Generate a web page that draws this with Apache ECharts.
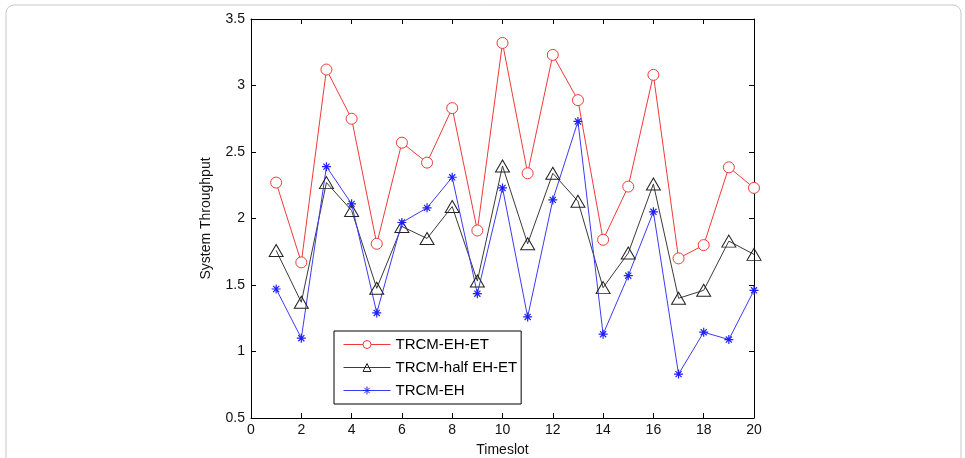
<!DOCTYPE html>
<html>
<head>
<meta charset="utf-8">
<script src="https://cdn.jsdelivr.net/npm/echarts@6/dist/echarts.min.js"></script>
<style>
  html, body { margin: 0; padding: 0; background: #fff; }
  #chart { width: 965px; height: 458px; }
</style>
</head>
<body>
<div id="chart"></div>
<script>
// timeslots 1..20
const timeslots = [1, 2, 3, 4, 5, 6, 7, 8, 9, 10, 11, 12, 13, 14, 15, 16, 17, 18, 19, 20];
const ehEt = [2.27, 1.67, 3.12, 2.75, 1.81, 2.57, 2.42, 2.83, 1.91, 3.32, 2.34, 3.23, 2.89, 1.84, 2.24, 3.08, 1.70, 1.80, 2.385, 2.23];
const halfEhEt = [1.76, 1.37, 2.27, 2.06, 1.475, 1.94, 1.85, 2.09, 1.53, 2.395, 1.81, 2.34, 2.13, 1.48, 1.74, 2.26, 1.40, 1.46, 1.83, 1.73];
const ehOnly = [1.47, 1.10, 2.39, 2.11, 1.29, 1.97, 2.08, 2.31, 1.435, 2.23, 1.26, 2.14, 2.73, 1.13, 1.57, 2.05, 0.83, 1.145, 1.09, 1.46];
const seriesNames = ["TRCM-EH-ET", "TRCM-half EH-ET", "TRCM-EH"];

const font = "Liberation Sans, Arial, sans-serif";
const star = "path://M5 0 L5 10 M0 5 L10 5 M1.6 1.6 L8.4 8.4 M8.4 1.6 L1.6 8.4";

function pairs(vals) {
  return timeslots.map((t, i) => [t, vals[i]]);
}

const chart = echarts.init(document.getElementById("chart"));

const inner = { show: true, inside: true, length: 5, lineStyle: { color: "#000" } };
const axisLine = { show: true, onZero: false, lineStyle: { color: "#000" } };

chart.setOption({
  animation: false,
  backgroundColor: "#fff",
  graphic: [{
    type: "rect",
    shape: { x: 6, y: 5, width: 955, height: 470, r: 8 },
    style: { fill: "none", stroke: "#c8c8c8", lineWidth: 1 },
    silent: true
  }],
  grid: { left: 251, right: 211, top: 19, bottom: 40, outerBoundsMode: "none" },
  legend: {
    orient: "vertical",
    left: 334,
    top: 331,
    padding: [6, 4, 6, 9],
    itemWidth: 47,
    itemHeight: 10,
    itemGap: 8,
    borderColor: "#000",
    borderWidth: 1,
    backgroundColor: "#fff",
    lineStyle: { width: 1 },
    itemStyle: { borderWidth: 1 },
    textStyle: { fontFamily: font, fontSize: 15, color: "#000" },
    data: seriesNames
  },
  xAxis: [{
    type: "value", min: 0, max: 20, interval: 2,
    name: "Timeslot", nameLocation: "middle", nameGap: 25,
    nameTextStyle: { fontFamily: font, fontSize: 14, color: "#111" },
    axisLine: axisLine,
    axisTick: inner,
    axisLabel: { fontFamily: font, fontSize: 14, color: "#111", margin: 5 },
    splitLine: { show: false }
  }, {
    type: "value", min: 0, max: 20, interval: 2, position: "top",
    axisLine: axisLine,
    axisTick: inner, axisLabel: { show: false }, splitLine: { show: false }
  }],
  yAxis: [{
    type: "value", min: 0.5, max: 3.5, interval: 0.5,
    name: "System Throughput", nameLocation: "middle", nameGap: 38,
    nameTextStyle: { fontFamily: font, fontSize: 14, color: "#111" },
    axisLine: axisLine,
    axisTick: inner,
    axisLabel: { fontFamily: font, fontSize: 14, color: "#111", margin: 6 },
    splitLine: { show: false }
  }, {
    type: "value", min: 0.5, max: 3.5, interval: 0.5, position: "right",
    axisLine: axisLine,
    axisTick: inner, axisLabel: { show: false }, splitLine: { show: false }
  }],
  series: [{
    name: seriesNames[0], type: "line", data: pairs(ehEt),
    symbol: "circle", symbolSize: 11, showAllSymbol: true,
    lineStyle: { color: "#f03a3a", width: 1 },
    itemStyle: { color: "#fff", borderColor: "#f03a3a", borderWidth: 1 }
  }, {
    name: seriesNames[1], type: "line", data: pairs(halfEhEt),
    symbol: "triangle", symbolSize: [14, 12], showAllSymbol: true,
    lineStyle: { color: "#3a3a3a", width: 1 },
    itemStyle: { color: "rgba(255,255,255,0)", borderColor: "#222", borderWidth: 1 }
  }, {
    name: seriesNames[2], type: "line", data: pairs(ehOnly),
    symbol: star, symbolSize: 9, showAllSymbol: true,
    lineStyle: { color: "#3b3bf5", width: 1 },
    itemStyle: { color: "#2020ff", borderColor: "#2020ff", borderWidth: 1.2 }
  }]
});
</script>
</body>
</html>
